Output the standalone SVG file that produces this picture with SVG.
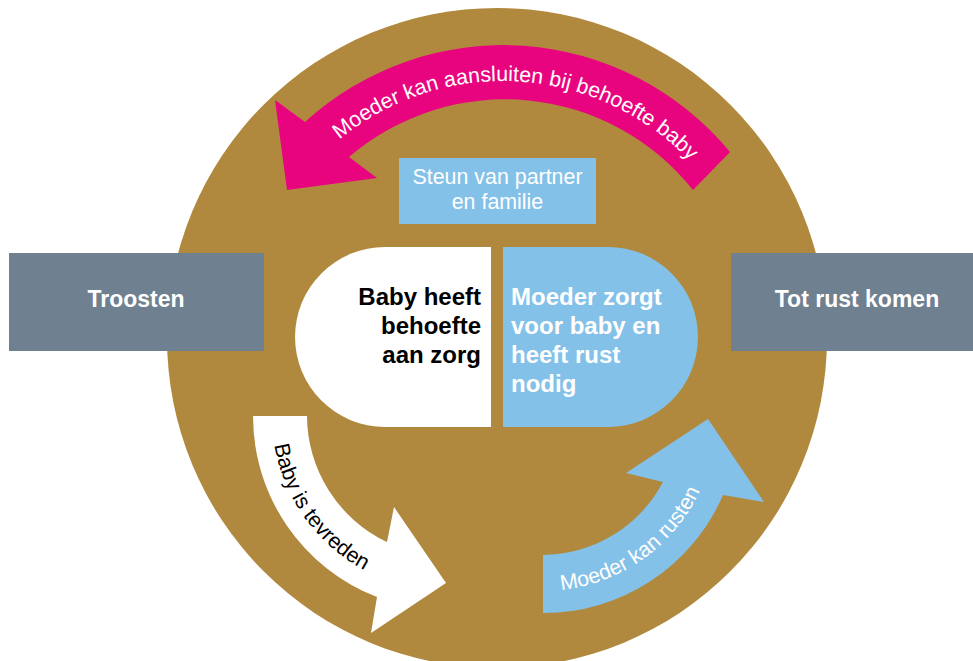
<svg xmlns="http://www.w3.org/2000/svg" width="973" height="661" viewBox="0 0 973 661">
  <style>
    text { font-family: "Liberation Sans", Arial, sans-serif; }
    .reg { font-size: 21.4px; }
    .bold { font-size: 23px; font-weight: bold; }
    .pill { font-size: 24px; font-weight: bold; }
    .w { fill: #ffffff; }
    .k { fill: #000000; }
    .gray { fill: #6F8090; }
  </style>
  <defs>
    <path id="pinkPath" d="M305.4,173.2 A258,258 0 0 1 719.4,198.5"/>
    <path id="whitePath" d="M272,416 A175,175 0 0 0 416.6,588.3"/>
    <path id="bluePath" d="M527.9,590.3 A173,173 0 0 0 710.1,462.8"/>
  </defs>
  <rect width="973" height="661" fill="#ffffff"/>
  <g id="cycle">
    <circle cx="497" cy="338" r="330" fill="#B1893E"/>
  </g>
  <g id="connectors">
    <g id="arrow-aansluiten">
      <path d="M730,152 A294,294 0 0 0 305,122 L275,100 L287,190 L377,178 L349,157 A240,240 0 0 1 693,190 Z" fill="#E9047F"/>
      <text class="reg w"><textPath href="#pinkPath" startOffset="50%" text-anchor="middle">Moeder kan aansluiten bij behoefte baby</textPath></text>
    </g>
    <g id="arrow-tevreden">
      <path d="M253,416 L307,416 A140,140 0 0 0 387,542 L394,507 L446,583 L371,633 L377,597 A194,194 0 0 1 253,416 Z" fill="#ffffff"/>
      <text class="reg k"><textPath href="#whitePath" startOffset="109" text-anchor="middle">Baby is tevreden</textPath></text>
    </g>
    <g id="arrow-rusten">
      <path d="M543,555 A137,137 0 0 0 663,482 L626,473 L708,419 L764,502 L723,495 A195,195 0 0 1 543,613 Z" fill="#84C1E8"/>
      <text class="reg w"><textPath href="#bluePath" startOffset="122.6" text-anchor="middle">Moeder kan rusten</textPath></text>
    </g>
  </g>
  <g id="steun">
    <rect x="399" y="158" width="197" height="66" fill="#84C1E8"/>
    <text class="reg w" x="497.5" y="184" text-anchor="middle">Steun van partner</text>
    <text class="reg w" x="497.5" y="209" text-anchor="middle">en familie</text>
  </g>
  <g id="baby">
    <path d="M491,247 H385 A90,90 0 0 0 385,427 H491 Z" fill="#ffffff"/>
    <text class="pill k" text-anchor="end"><tspan x="481" y="305">Baby heeft</tspan><tspan x="481" y="334">behoefte</tspan><tspan x="481" y="363">aan zorg</tspan></text>
  </g>
  <g id="moeder">
    <path d="M503,247 H608 A90,90 0 0 1 608,427 H503 Z" fill="#84C1E8"/>
    <text class="pill w"><tspan x="511" y="305">Moeder zorgt</tspan><tspan x="511" y="334">voor baby en</tspan><tspan x="511" y="363">heeft rust</tspan><tspan x="511" y="392">nodig</tspan></text>
  </g>
  <g id="troosten">
    <rect class="gray" x="9" y="253" width="255" height="98"/>
    <text class="bold w" x="136" y="307" text-anchor="middle">Troosten</text>
  </g>
  <g id="totrust">
    <rect class="gray" x="731" y="253" width="242" height="98"/>
    <text class="bold w" x="857" y="307" text-anchor="middle">Tot rust komen</text>
  </g>
</svg>
